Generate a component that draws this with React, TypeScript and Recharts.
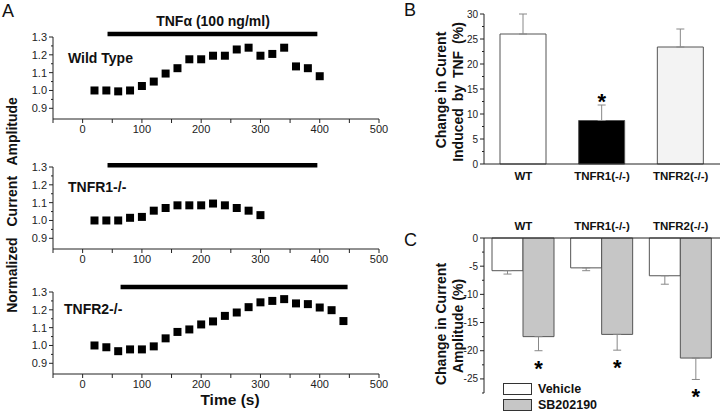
import React from 'react';
import {
  ScatterChart, Scatter, XAxis, YAxis, ZAxis, ReferenceLine,
  BarChart, Bar, Cell, ErrorBar, LabelList, Legend,
} from 'recharts';

// Panel A: normalized current amplitude vs time
const WT_TIME = [20, 40, 60, 80, 100, 120, 140, 160, 180, 200, 220, 240, 260, 280, 300, 320, 340, 360, 380, 400];
const WT_AMP = [1.0, 1.0, 0.995, 1.0, 1.025, 1.05, 1.095, 1.125, 1.175, 1.175, 1.195, 1.195, 1.23, 1.24, 1.195, 1.205, 1.24, 1.135, 1.125, 1.08];
const R1_TIME = [20, 40, 60, 80, 100, 120, 140, 160, 180, 200, 220, 240, 260, 280, 300];
const R1_AMP = [1.0, 1.0, 1.0, 1.015, 1.02, 1.055, 1.07, 1.085, 1.085, 1.085, 1.095, 1.085, 1.07, 1.055, 1.03];
const R2_TIME = [20, 40, 60, 80, 100, 120, 140, 160, 180, 200, 220, 240, 260, 280, 300, 320, 340, 360, 380, 400, 420, 440];
const R2_AMP = [1.0, 0.99, 0.968, 0.978, 0.978, 0.995, 1.04, 1.076, 1.09, 1.118, 1.135, 1.166, 1.185, 1.215, 1.242, 1.25, 1.26, 1.236, 1.232, 1.213, 1.198, 1.137];
// TNF application: [start s, end s, level]
const WT_TNF = [42, 396, 1.317];
const R1_TNF = [42, 396, 1.31];
const R2_TNF = [64, 447, 1.328];

const TIME_TICKS = [-50, 0, 50, 100, 150, 200, 250, 300, 350, 400, 450, 500];
const AMP_TICKS = [0.9, 0.95, 1.0, 1.05, 1.1, 1.15, 1.2, 1.25, 1.3];

// Panel B: change induced by TNF
const GROUPS = ['WT', 'TNFR1(-/-)', 'TNFR2(-/-)'];
const B_CHANGE = [26, 8.7, 23.4];
const B_SEM = [4, 3.1, 3.6];
const B_SIG = [false, true, false];
const B_TICKS = [0, 2.5, 5, 7.5, 10, 12.5, 15, 17.5, 20, 22.5, 25, 27.5, 30];

// Panel C: vehicle vs SB202190
const C_VEHICLE = [-5.8, -5.3, -6.7];
const C_VEHICLE_SEM = [0.6, 0.5, 1.5];
const C_SB = [-17.5, -17.1, -21.3];
const C_SB_SEM = [2.5, 2.8, 3.8];
const C_SIG = [true, true, true];
const C_TICKS = [-27.5, -25, -22.5, -20, -17.5, -15, -12.5, -10, -7.5, -5, -2.5, 0];

const B_FILLS = ['#ffffff', '#000000', '#f3f3f3'];
const SERIES_FILL: Record<string, string> = { vehicle: '#ffffff', sb: '#c6c6c6' };
const SERIES_ORDER = ['vehicle', 'sb'];

const FONT = "'Liberation Sans', Arial, sans-serif";
const NARROW = "'Liberation Sans Narrow', 'Liberation Sans', Arial, sans-serif";
const AXIS = '#222';
const TICK = 4;
const GAP = 2;

// y tick with short minor marks between labelled majors
const makeYTick = (step: number, fmt: (v: number) => string, size: number) => (props: any) => {
  const { x, y, payload } = props;
  const v = payload.value;
  const major = Math.abs(v / step - Math.round(v / step)) < 1e-6;
  const ax = x + TICK + GAP;
  return (
    <g>
      <line x1={ax} x2={ax - (major ? 4 : 2)} y1={y} y2={y} stroke={AXIS} />
      {major && (
        <text x={ax - 6} y={y} dy={size * 0.35} textAnchor="end" fontSize={size} fontFamily={NARROW} fill={AXIS}>
          {fmt(v)}
        </text>
      )}
    </g>
  );
};

const ampTick = makeYTick(0.1, (v) => v.toFixed(1), 11);
const bTick = makeYTick(5, (v) => String(v), 10);
const cTick = makeYTick(5, (v) => String(v), 10);

function TimePanel({ time, amp, tnf, top }: { time: number[]; amp: number[]; tnf: number[]; top: number }) {
  const pts = time.map((t, i) => ({ t, v: amp[i] }));
  return (
    <div style={{ position: 'absolute', left: 0, top }}>
      <ScatterChart width={390} height={139} margin={{ top: 37, right: 11, left: 0, bottom: 0 }}>
        <XAxis
          type="number" dataKey="t" domain={[-50, 500]} ticks={TIME_TICKS} interval={0}
          tickFormatter={(v: number) => (v % 100 === 0 ? String(v) : '')}
          height={20} tickSize={TICK} tickMargin={GAP} stroke={AXIS}
          tick={{ fontSize: 11, fontFamily: NARROW, fill: AXIS }}
        />
        <YAxis
          type="number" dataKey="v" domain={[0.84, 1.3]} ticks={AMP_TICKS} interval={0}
          width={53} tickSize={TICK} tickMargin={GAP} tickLine={false} tick={ampTick} stroke={AXIS}
        />
        <ZAxis range={[30, 30]} />
        <ReferenceLine
          segment={[{ x: tnf[0], y: tnf[2] }, { x: tnf[1], y: tnf[2] }]}
          stroke="#000" strokeWidth={4.5} ifOverflow="visible"
        />
        <Scatter data={pts} fill="#000" shape="square" isAnimationActive={false} />
      </ScatterChart>
    </div>
  );
}

const StarUp = (props: any) => {
  const { index } = props;
  const vb = props.viewBox ?? props;
  if (!B_SIG[index]) return null;
  const topY = Math.min(vb.y, vb.y + vb.height);
  const ppu = Math.abs(vb.height) / Math.abs(B_CHANGE[index]);
  const errTop = topY - B_SEM[index] * ppu;
  return (
    <text x={vb.x + vb.width / 2} y={errTop + 4} textAnchor="middle" fontSize={22} fontWeight="bold" fontFamily={FONT} fill="#000">*</text>
  );
};

const StarDown = (props: any) => {
  const { index } = props;
  const vb = props.viewBox ?? props;
  if (!C_SIG[index]) return null;
  const bottom = Math.max(vb.y, vb.y + vb.height);
  const ppu = Math.abs(vb.height) / Math.abs(C_SB[index]);
  const errEnd = bottom + C_SB_SEM[index] * ppu;
  return (
    <text x={vb.x + vb.width / 2} y={errEnd + 25} textAnchor="middle" fontSize={22} fontWeight="bold" fontFamily={FONT} fill="#000">*</text>
  );
};

const LegendBox = (props: any) => {
  const items = [...(props.payload || [])].sort(
    (a: any, b: any) => SERIES_ORDER.indexOf(a.dataKey) - SERIES_ORDER.indexOf(b.dataKey),
  );
  return (
    <div style={{ fontFamily: FONT }}>
      {items.map((p: any) => (
        <div key={p.value} style={{ display: 'flex', alignItems: 'center', height: 16 }}>
          <span style={{ width: 27, height: 10, border: '1px solid #333', background: SERIES_FILL[p.dataKey], display: 'inline-block' }} />
          <span style={{ marginLeft: 6, fontSize: 12.5, fontWeight: 'bold', color: '#111' }}>{p.value}</span>
        </div>
      ))}
    </div>
  );
};

const bData = GROUPS.map((name, i) => ({ name, value: B_CHANGE[i], err: [0, B_SEM[i]] }));
const cData = GROUPS.map((name, i) => ({
  name,
  vehicle: C_VEHICLE[i],
  vehErr: [C_VEHICLE_SEM[i], 0],
  sb: C_SB[i],
  sbErr: [C_SB_SEM[i], 0],
}));

const txt = (s: React.CSSProperties): React.CSSProperties => ({
  position: 'absolute', fontFamily: FONT, color: '#111', whiteSpace: 'nowrap', lineHeight: 1, ...s,
});

const rotated = (cx: number, cy: number, size: number): React.CSSProperties => ({
  position: 'absolute', left: cx, top: cy, transform: 'translate(-50%, -50%) rotate(-90deg)',
  fontFamily: FONT, fontWeight: 'bold', fontSize: size, color: '#111', whiteSpace: 'nowrap', lineHeight: 1,
});

export default function App() {
  return (
    <div style={{ position: 'absolute', left: 0, top: 0, width: 720, height: 415, overflow: 'hidden', background: '#fff' }}>
      <TimePanel time={WT_TIME} amp={WT_AMP} tnf={WT_TNF} top={0} />
      <TimePanel time={R1_TIME} amp={R1_AMP} tnf={R1_TNF} top={130} />
      <TimePanel time={R2_TIME} amp={R2_AMP} tnf={R2_TNF} top={255} />

      <div style={{ position: 'absolute', left: 400, top: 0 }}>
        <BarChart width={320} height={184} data={bData} margin={{ top: 14, right: 0, left: 0, bottom: 0 }}>
          <XAxis dataKey="name" tickLine={false} stroke={AXIS} height={20}
            tick={{ fontSize: 11.5, fontWeight: 'bold', fontFamily: FONT, fill: '#111' }} />
          <YAxis domain={[0, 30]} ticks={B_TICKS} interval={0} width={84}
            tickSize={TICK} tickMargin={GAP} tickLine={false} tick={bTick} stroke={AXIS} />
          <Bar dataKey="value" barSize={46} stroke="#555" isAnimationActive={false}>
            {bData.map((d, i) => <Cell key={d.name} fill={B_FILLS[i]} />)}
            <ErrorBar dataKey="err" width={4} stroke="#888" strokeWidth={1} />
            <LabelList content={StarUp} />
          </Bar>
        </BarChart>
      </div>

      <div style={{ position: 'absolute', left: 400, top: 200 }}>
        <BarChart width={320} height={215} data={cData} barGap={0} margin={{ top: 0, right: 0, left: 0, bottom: 22 }}>
          <XAxis dataKey="name" orientation="top" tickLine={false} stroke={AXIS} height={38}
            tick={{ fontSize: 11.5, fontWeight: 'bold', fontFamily: FONT, fill: '#111' }} />
          <YAxis domain={[-27.5, 0]} ticks={C_TICKS} interval={0} width={84}
            tickSize={TICK} tickMargin={GAP} tickLine={false} tick={cTick} stroke={AXIS} />
          <Bar dataKey="vehicle" name="Vehicle" barSize={31} fill={SERIES_FILL.vehicle} stroke="#555" isAnimationActive={false}>
            <ErrorBar dataKey="vehErr" width={4} stroke="#888" strokeWidth={1} />
          </Bar>
          <Bar dataKey="sb" name="SB202190" barSize={31} fill={SERIES_FILL.sb} stroke="#555" isAnimationActive={false}>
            <ErrorBar dataKey="sbErr" width={4} stroke="#888" strokeWidth={1} />
            <LabelList content={StarDown} />
          </Bar>
          <Legend content={LegendBox} layout="horizontal" verticalAlign="middle" align="center"
            wrapperStyle={{ left: 103, top: 181, width: 'auto', height: 'auto' }} />
        </BarChart>
      </div>

      {/* panel letters */}
      <div style={txt({ left: 2, top: 2, fontSize: 18 })}>A</div>
      <div style={txt({ left: 404, top: 1, fontSize: 18 })}>B</div>
      <div style={txt({ left: 404, top: 231, fontSize: 18 })}>C</div>

      {/* panel A annotations */}
      <div style={txt({ left: 213, top: 14, fontSize: 14, fontWeight: 'bold', transform: 'translateX(-50%)' })}>TNFα (100 ng/ml)</div>
      <div style={txt({ left: 68, top: 51, fontSize: 14, fontWeight: 'bold' })}>Wild Type</div>
      <div style={txt({ left: 68, top: 180, fontSize: 14, fontWeight: 'bold' })}>TNFR1-/-</div>
      <div style={txt({ left: 64, top: 302, fontSize: 14, fontWeight: 'bold' })}>TNFR2-/-</div>
      <div style={rotated(12, 205, 14)}>
        <span style={{ wordSpacing: 7 }}>Normalized Current Amplitude</span>
      </div>
      <div style={txt({ left: 230, top: 392, fontSize: 15.5, fontWeight: 'bold', transform: 'translateX(-50%)' })}>Time (s)</div>

      {/* panel B / C axis titles */}
      <div style={rotated(441, 90, 14)}>Change in Curent</div>
      <div style={rotated(458, 92, 14)}><span style={{ wordSpacing: 3 }}>Induced by TNF (%)</span></div>
      <div style={rotated(441, 324, 14)}>Change in Current</div>
      <div style={rotated(458, 326, 14)}>Amplitude (%)</div>
    </div>
  );
}
